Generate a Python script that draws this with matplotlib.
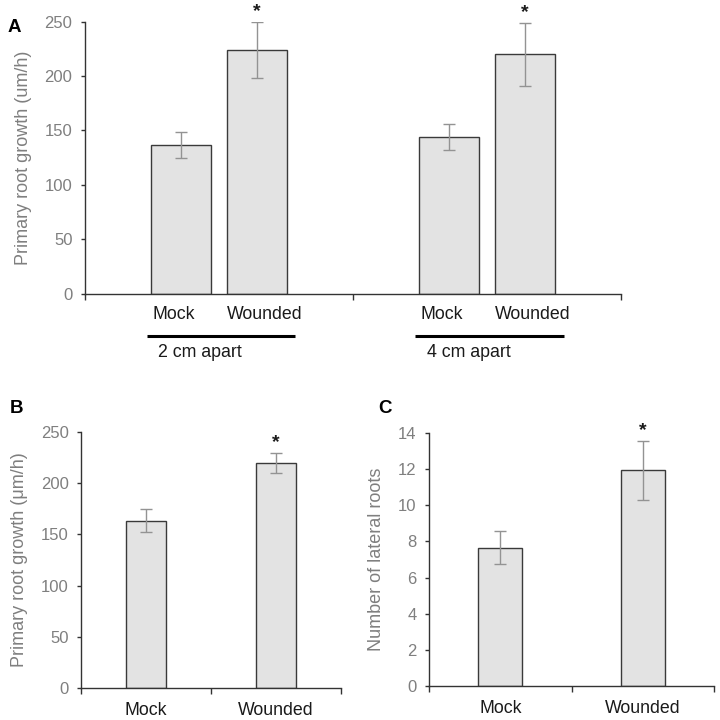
import numpy as np
import matplotlib
matplotlib.use("Agg")
import matplotlib.pyplot as plt
import matplotlib.transforms as mtransforms

plt.rcParams["font.family"] = ["Liberation Sans", "DejaVu Sans"]

# Panel A: two distances, mock vs wounded
groups_a = ["2 cm apart", "4 cm apart"]
conditions = ["Mock", "Wounded"]
mock_a = [137, 144]
mock_a_err = [12, 11.5]
wounded_a = [224, 220]
wounded_a_err = [25.5, 29]

# Panel B: primary root growth
growth_b = [163.5, 219.5]
growth_b_err = [11.5, 10]

# Panel C: lateral roots
lateral_c = [7.66, 11.93]
lateral_c_err = [0.91, 1.63]

signif = [False, True]

BAR_FC = "#e3e3e3"
BAR_EC = "#3a3a3a"
ERR_C = "#939393"
TICK_C = "#7f7f7f"
TXT_C = "#1a1a1a"

fig = plt.figure(figsize=(7.2, 7.2), dpi=100)


def style_axes(ax):
    for s in ["top", "right"]:
        ax.spines[s].set_visible(False)
    for s in ["left", "bottom"]:
        ax.spines[s].set_color("#333333")
        ax.spines[s].set_linewidth(1.0)
    ax.tick_params(axis="y", direction="out", length=3, width=1, color="#333333",
                   labelcolor=TICK_C, labelsize=12, pad=6)
    ax.tick_params(axis="x", direction="out", length=4, width=1, color="#333333",
                   labelbottom=False)


def add_star(ax, x, top):
    ax.annotate("*", xy=(x, top), xytext=(0, 1.5), textcoords="offset points",
                ha="center", va="bottom", fontsize=14, fontweight="bold", color=TXT_C)


# ---- Panel A
axA = fig.add_axes([0.118, 0.592, 0.745, 0.378])
style_axes(axA)
xg = np.arange(len(groups_a))
off = 0.141
w = 0.224
for vals, errs, dx in [(mock_a, mock_a_err, -off), (wounded_a, wounded_a_err, off)]:
    axA.bar(xg + dx, vals, width=w, color=BAR_FC, edgecolor=BAR_EC, linewidth=1.0, zorder=2)
    axA.errorbar(xg + dx, vals, yerr=errs, fmt="none", ecolor=ERR_C, elinewidth=1.0,
                 capsize=4, capthick=1.0, zorder=3)
for i in range(len(groups_a)):
    add_star(axA, xg[i] + off, wounded_a[i] + wounded_a_err[i])
axA.set_xlim(-0.5, 1.5)
axA.set_ylim(0, 250)
axA.set_yticks(np.arange(0, 251, 50))
axA.set_xticks([-0.5, 0.5, 1.5])
axA.set_ylabel("Primary root growth (um/h)", color=TICK_C, fontsize=13, labelpad=9)
trA = mtransforms.blended_transform_factory(axA.transData, axA.transAxes)
lab_off = 0.17
for i, g in enumerate(groups_a):
    axA.text(xg[i] - lab_off, -0.075, conditions[0], transform=trA, ha="center", va="center",
             fontsize=12.8, color=TXT_C)
    axA.text(xg[i] + lab_off, -0.075, conditions[1], transform=trA, ha="center", va="center",
             fontsize=12.8, color=TXT_C)
    axA.plot([xg[i] - 0.27, xg[i] + 0.285], [-0.157, -0.157], transform=trA, color="black",
             linewidth=2.2, clip_on=False, solid_capstyle="butt")
    axA.text(xg[i] - 0.07, -0.217, g, transform=trA, ha="center", va="center",
             fontsize=12.8, color=TXT_C)
fig.text(0.011, 0.962, "A", fontsize=13.5, fontweight="bold", ha="left", va="center")


def simple_panel(rect, vals, errs, ylim, yticks, ylabel, letter, letter_xy):
    ax = fig.add_axes(rect)
    style_axes(ax)
    x = np.arange(len(conditions))
    ax.bar(x, vals, width=0.31, color=BAR_FC, edgecolor=BAR_EC, linewidth=1.0, zorder=2)
    ax.errorbar(x, vals, yerr=errs, fmt="none", ecolor=ERR_C, elinewidth=1.0,
                capsize=4, capthick=1.0, zorder=3)
    for i in range(len(x)):
        if signif[i]:
            add_star(ax, x[i], vals[i] + errs[i])
    ax.set_xlim(-0.5, 1.5)
    ax.set_ylim(*ylim)
    ax.set_yticks(yticks)
    ax.set_xticks([-0.5, 0.5, 1.5])
    ax.set_xticks(x, minor=True)
    ax.set_xticklabels(conditions, minor=True)
    ax.tick_params(axis="x", which="minor", length=0, labelbottom=True, labelsize=12.8,
                   labelcolor=TXT_C, pad=10)
    ax.set_ylabel(ylabel, color=TICK_C, fontsize=13, labelpad=9)
    fig.text(letter_xy[0], letter_xy[1], letter, fontsize=13.5, fontweight="bold",
             ha="left", va="center")
    return ax


simple_panel([0.1125, 0.0444, 0.361, 0.3556], growth_b, growth_b_err, (0, 250),
             np.arange(0, 251, 50), "Primary root growth (\u03bcm/h)", "B", (0.013, 0.433))
simple_panel([0.596, 0.0468, 0.396, 0.3522], lateral_c, lateral_c_err, (0, 14),
             np.arange(0, 15, 2), "Number of lateral roots", "C", (0.525, 0.433))

fig.savefig("out.png", dpi=100, facecolor="white")
